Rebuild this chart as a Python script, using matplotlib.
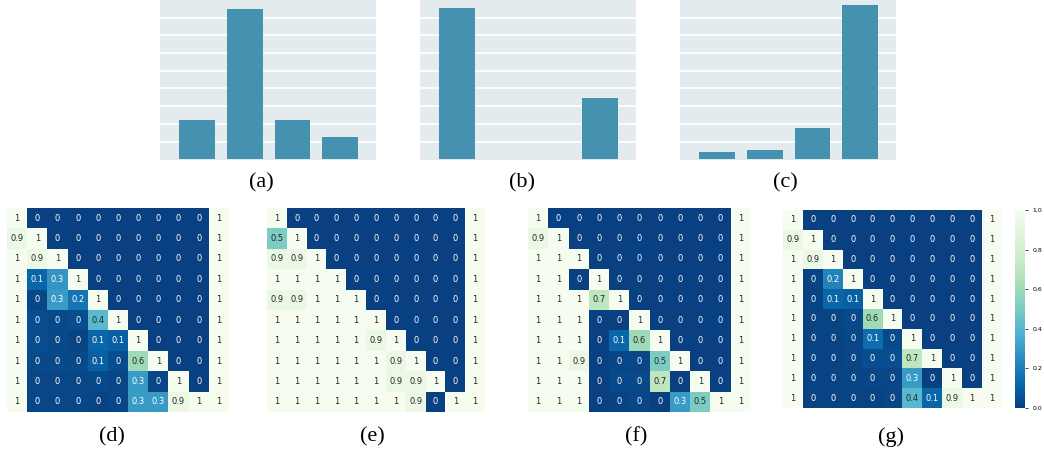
import numpy as np
import matplotlib
matplotlib.use("Agg")
import matplotlib.pyplot as plt
import seaborn as sns

W, H = 1044, 453

# bar heights for the three top panels
bars_a = [2.22, 8.49, 2.22, 1.26]
bars_b = [8.55, 0.0, 0.0, 3.46]
bars_c = [0.41, 0.52, 1.77, 8.72]

# 10 x 11 score matrices for the bottom panels
mat_d = [
    [1, 0, 0, 0, 0, 0, 0, 0, 0, 0, 1],
    [0.94, 1, 0, 0, 0, 0, 0, 0, 0, 0, 1],
    [1, 0.94, 1, 0, 0, 0, 0, 0, 0, 0, 1],
    [1, 0.12, 0.28, 1, 0, 0, 0, 0, 0, 0, 1],
    [1, 0.02, 0.3, 0.17, 1, 0, 0, 0, 0, 0, 1],
    [1, 0.04, 0.03, 0.04, 0.4, 1, 0, 0, 0, 0, 1],
    [1, 0.04, 0.03, 0.01, 0.12, 0.1, 1, 0, 0, 0, 1],
    [1, 0.03, 0.03, 0.03, 0.1, 0.04, 0.6, 1, 0, 0, 1],
    [1, 0.02, 0.02, 0.02, 0.03, 0.02, 0.3, 0.02, 1, 0, 1],
    [1, 0.02, 0.02, 0.02, 0.01, 0.02, 0.3, 0.3, 0.94, 1, 1],
]
mat_e = [
    [1, 0, 0, 0, 0, 0, 0, 0, 0, 0, 1],
    [0.5, 1, 0, 0, 0, 0, 0, 0, 0, 0, 1],
    [0.94, 0.94, 1, 0, 0, 0, 0, 0, 0, 0, 1],
    [1, 1, 1, 1, 0, 0, 0, 0, 0, 0, 1],
    [0.94, 0.94, 1, 1, 1, 0, 0, 0, 0, 0, 1],
    [1, 1, 1, 1, 1, 1, 0, 0, 0, 0, 1],
    [1, 1, 1, 1, 1, 0.94, 1, 0, 0, 0, 1],
    [1, 1, 1, 1, 1, 1, 0.94, 1, 0, 0, 1],
    [1, 1, 1, 1, 1, 1, 0.94, 0.94, 1, 0, 1],
    [1, 1, 1, 1, 1, 1, 1, 0.94, 0, 1, 1],
]
mat_f = [
    [1, 0, 0, 0, 0, 0, 0, 0, 0, 0, 1],
    [0.94, 1, 0, 0, 0, 0, 0, 0, 0, 0, 1],
    [1, 1, 1, 0, 0, 0, 0, 0, 0, 0, 1],
    [1, 1, 0, 1, 0, 0, 0, 0, 0, 0, 1],
    [1, 1, 1, 0.7, 1, 0, 0, 0, 0, 0, 1],
    [1, 1, 1, 0, 0, 1, 0, 0, 0, 0, 1],
    [1, 1, 1, 0, 0.12, 0.6, 1, 0, 0, 0, 1],
    [1, 1, 0.94, 0, 0.02, 0.02, 0.5, 1, 0, 0, 1],
    [1, 1, 1, 0, 0.03, 0.03, 0.7, 0, 1, 0, 1],
    [1, 1, 1, 0, 0.01, 0.02, 0, 0.3, 0.5, 1, 1],
]
mat_g = [
    [1, 0, 0, 0, 0, 0, 0, 0, 0, 0, 1],
    [0.94, 1, 0, 0, 0, 0, 0, 0, 0, 0, 1],
    [1, 0.94, 1, 0, 0, 0, 0, 0, 0, 0, 1],
    [1, 0.01, 0.22, 1, 0, 0, 0, 0, 0, 0, 1],
    [1, 0.01, 0.12, 0.1, 1, 0, 0, 0, 0, 0, 1],
    [1, 0.01, 0.01, 0.03, 0.6, 1, 0, 0, 0, 0, 1],
    [1, 0.01, 0.01, 0.02, 0.14, 0.03, 1, 0, 0, 0, 1],
    [1, 0.01, 0.01, 0.02, 0.04, 0.04, 0.7, 1, 0, 0, 1],
    [1, 0.01, 0.01, 0.01, 0.02, 0.02, 0.3, 0, 1, 0, 1],
    [1, 0.01, 0.01, 0.01, 0.01, 0.02, 0.4, 0.12, 0.94, 1, 1],
]

bar_color = "#4591b0"
panel_bg = "#e4ebef"
serif = ["Liberation Serif", "DejaVu Serif"]


def box(x0, y0, x1, y1):
    # pixel box (top-left origin) -> figure fraction rect
    return [x0 / W, 1 - y1 / H, (x1 - x0) / W, (y1 - y0) / H]


def bar_panel(ax, vals):
    ax.bar(range(len(vals)), vals, width=0.75, color=bar_color, zorder=3)
    ax.set_facecolor(panel_bg)
    ax.set_xlim(-0.78, 3.75)
    ax.set_ylim(-0.04, 9.0)
    ax.set_yticks(range(1, 9))
    ax.grid(axis="y", color="white", linewidth=1.2, zorder=1)
    ax.tick_params(length=0, labelleft=False, labelbottom=False)
    ax.set_xticks([])
    for s in ax.spines.values():
        s.set_visible(False)


def labels_of(m):
    return np.array([[f"{round(v, 1):g}" for v in row] for row in m])


def heat_panel(ax, m, cbar_ax=None):
    m = np.array(m, dtype=float)
    sns.heatmap(m, ax=ax, cmap="GnBu_r", vmin=0, vmax=1,
                annot=labels_of(m), fmt="", annot_kws={"size": 6},
                xticklabels=False, yticklabels=False,
                cbar=cbar_ax is not None, cbar_ax=cbar_ax)
    ax.tick_params(length=0)


fig = plt.figure(figsize=(W / 100, H / 100), dpi=100)

top = [(bars_a, 160, 376, "(a)", 261), (bars_b, 420, 636, "(b)", 522),
       (bars_c, 680, 896, "(c)", 785)]
for vals, x0, x1, tag, tx in top:
    ax = fig.add_axes(box(x0, 0, x1, 160))
    bar_panel(ax, vals)
    fig.text(tx / W, 1 - 183 / H, tag, family=serif, fontsize=16,
             ha="center", va="center")

bottom = [(mat_d, 7, 229, 208, 412, "(d)", 112),
          (mat_e, 267, 485, 208, 412, "(e)", 372),
          (mat_f, 528, 751, 208, 412, "(f)", 636)]
for m, x0, x1, y0, y1, tag, tx in bottom:
    ax = fig.add_axes(box(x0, y0, x1, y1))
    heat_panel(ax, m)
    fig.text(tx / W, 1 - 437 / H, tag, family=serif, fontsize=16,
             ha="center", va="center")

ax_g = fig.add_axes(box(783, 210, 1002, 408))
cax = fig.add_axes(box(1015, 210, 1025, 408))
heat_panel(ax_g, mat_g, cbar_ax=cax)
cax.set_yticks(np.arange(0, 1.01, 0.2))
cax.tick_params(labelsize=4.5, length=2, width=0.5)
fig.text(891 / W, 1 - 437 / H, "(g)", family=serif, fontsize=16,
         ha="center", va="center")

fig.savefig("out.png", dpi=100)
